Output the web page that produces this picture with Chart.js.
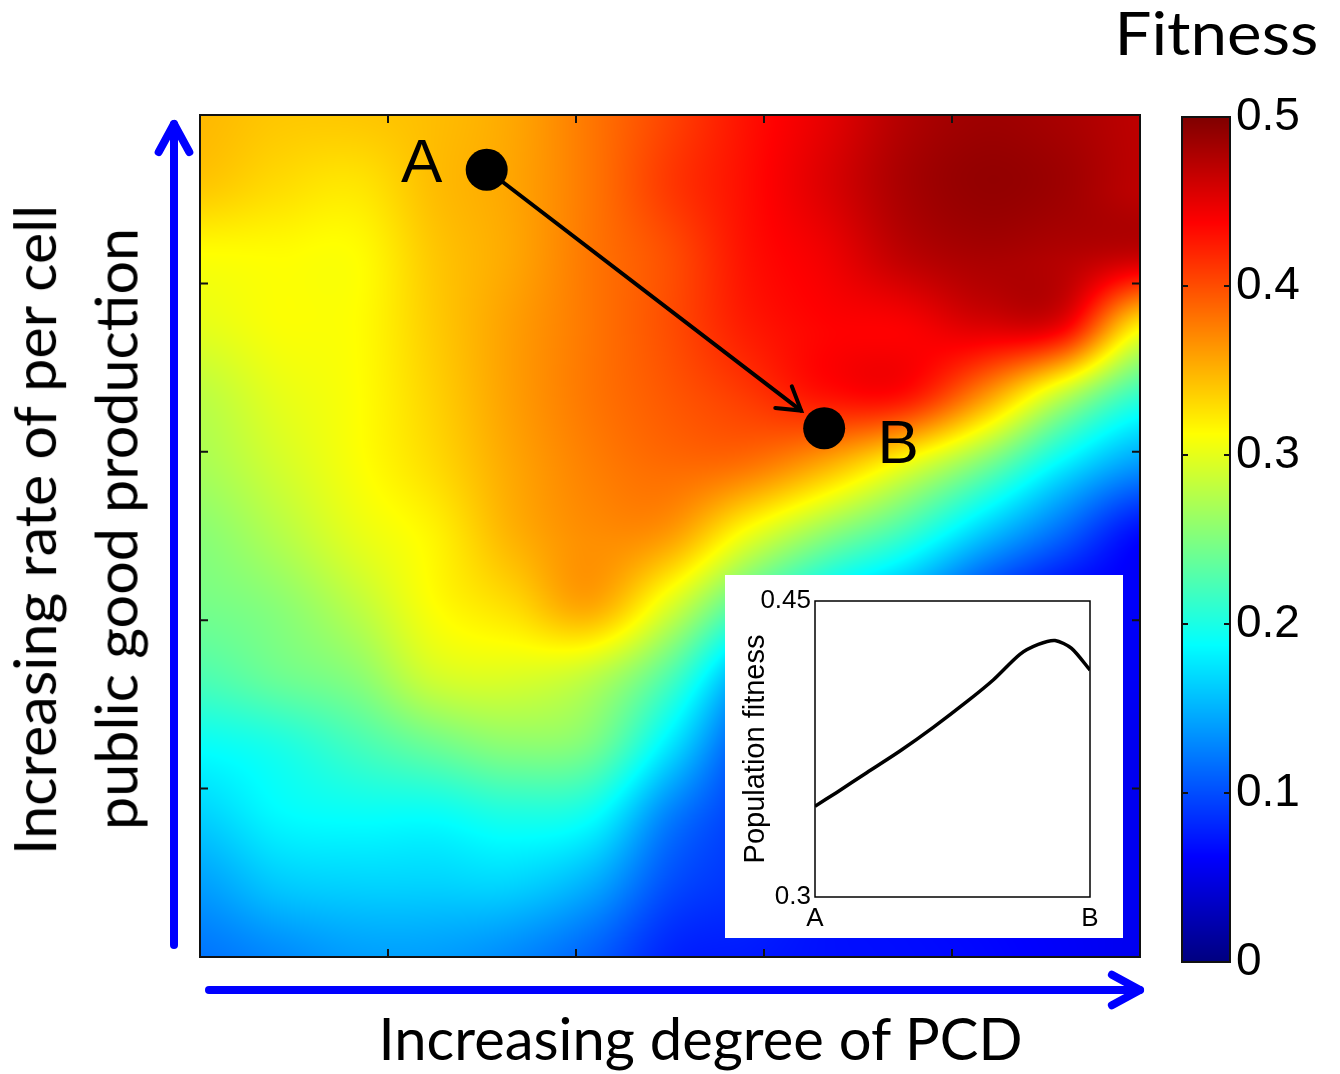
<!DOCTYPE html>
<html>
<head>
<meta charset="utf-8">
<title>Fitness landscape</title>
<script src="https://cdn.jsdelivr.net/npm/chart.js@4.4.1/dist/chart.umd.min.js"></script>
<style>
  html, body { margin: 0; padding: 0; background: #fff; }
  #page { position: relative; width: 1340px; height: 1074px; overflow: hidden; }
  canvas { position: absolute; }
  .label { position: absolute; font-family: 'Lato', 'Open Sans', sans-serif; color: #000; line-height: 1; white-space: nowrap; }
</style>
</head>
<body>
<div id="page">
  <canvas id="landscape" width="1340" height="1074" style="left:0;top:0"></canvas>
  <canvas id="colorbar" width="200" height="1074" style="left:1140px;top:0"></canvas>
  <canvas id="inset" width="398" height="363" style="left:725px;top:575px"></canvas>
  <div class="label" id="fitness-title" style="font-size:60px">Fitness</div>
  <div class="label" id="ylabel-1" style="font-size:58px">Increasing rate of per cell</div>
  <div class="label" id="ylabel-2" style="font-size:58px">public good production</div>
  <div class="label" id="xlabel" style="font-size:58px">Increasing degree of PCD</div>
</div>
<script>
// Data
const pcdLevels = [0, 0.083, 0.167, 0.25, 0.333, 0.417, 0.5, 0.583, 0.667, 0.75, 0.833, 0.917, 1];
const productionLevels = [1, 0.917, 0.833, 0.75, 0.667, 0.583, 0.5, 0.417, 0.333, 0.25, 0.167, 0.083, 0];
// one row per production level (top to bottom), one column per PCD level
const fitnessGrid = [
    [0.347, 0.340, 0.340, 0.345, 0.356, 0.380, 0.405, 0.430, 0.450, 0.475, 0.485, 0.480, 0.470],
    [0.340, 0.330, 0.325, 0.345, 0.357, 0.380, 0.410, 0.432, 0.455, 0.480, 0.490, 0.485, 0.470],
    [0.312, 0.313, 0.313, 0.340, 0.356, 0.380, 0.400, 0.430, 0.445, 0.470, 0.480, 0.475, 0.465],
    [0.300, 0.310, 0.313, 0.338, 0.360, 0.380, 0.400, 0.425, 0.437, 0.440, 0.455, 0.445, 0.321],
    [0.280, 0.300, 0.312, 0.335, 0.360, 0.380, 0.395, 0.410, 0.430, 0.430, 0.367, 0.282, 0.213],
    [0.270, 0.290, 0.310, 0.330, 0.356, 0.375, 0.385, 0.380, 0.350, 0.302, 0.246, 0.180, 0.136],
    [0.255, 0.275, 0.300, 0.318, 0.350, 0.368, 0.360, 0.303, 0.254, 0.213, 0.158, 0.111, 0.066],
    [0.245, 0.255, 0.280, 0.312, 0.330, 0.355, 0.295, 0.219, 0.167, 0.133, 0.087, 0.060, 0.060],
    [0.225, 0.240, 0.255, 0.290, 0.295, 0.280, 0.225, 0.137, 0.090, 0.062, 0.060, 0.058, 0.058],
    [0.190, 0.200, 0.220, 0.240, 0.255, 0.245, 0.175, 0.100, 0.070, 0.062, 0.060, 0.058, 0.055],
    [0.165, 0.185, 0.190, 0.190, 0.200, 0.190, 0.125, 0.090, 0.070, 0.064, 0.060, 0.058, 0.055],
    [0.140, 0.160, 0.165, 0.165, 0.165, 0.145, 0.100, 0.085, 0.070, 0.066, 0.062, 0.058, 0.056],
    [0.120, 0.130, 0.140, 0.140, 0.130, 0.110, 0.080, 0.075, 0.070, 0.068, 0.065, 0.060, 0.055]
];
const fitnessMin = 0;
const fitnessMax = 0.5;
const colorbarTicks = [0, 0.1, 0.2, 0.3, 0.4, 0.5];
const plotTicks = [0, 0.2, 0.4, 0.6, 0.8, 1];

// path from A to B in the landscape
const pathLabels = ['A', 'B'];
const pathPcd = [0.305, 0.664];
const pathProduction = [0.935, 0.628];

// inset: population fitness along the path
const insetPosition = [0, 0.079, 0.188, 0.309, 0.430, 0.552, 0.648, 0.745, 0.812, 0.873, 0.933, 1];
const insetFitness = [0.346, 0.353, 0.363, 0.374, 0.386, 0.399, 0.410, 0.423, 0.428, 0.430, 0.426, 0.415];
const insetYTicks = [0.3, 0.45];
const insetXTicks = [0, 1];

// jet colour map, t in [0, 1]
function jet(t) {
    const c = v => Math.max(0, Math.min(1, v));
    return [
        Math.round(255 * c(1.5 - Math.abs(4 * t - 3))),
        Math.round(255 * c(1.5 - Math.abs(4 * t - 2))),
        Math.round(255 * c(1.5 - Math.abs(4 * t - 1)))
    ];
}

// Catmull-Rom weights for value v on a list of grid levels
function cubicWeights(levels, v) {
    const n = levels.length;
    let i = 0;
    for (; i < n - 2; i++) {
        const lo = Math.min(levels[i], levels[i + 1]);
        const hi = Math.max(levels[i], levels[i + 1]);
        if (v >= lo && v <= hi) break;
    }
    let t = (v - levels[i]) / (levels[i + 1] - levels[i]);
    t = Math.max(0, Math.min(1, t));
    const t2 = t * t, t3 = t2 * t;
    const clampIdx = k => Math.max(0, Math.min(n - 1, k));
    return {
        idx: [clampIdx(i - 1), i, clampIdx(i + 1), clampIdx(i + 2)],
        w: [(-t3 + 2 * t2 - t) / 2, (3 * t3 - 5 * t2 + 2) / 2, (-3 * t3 + 4 * t2 + t) / 2, (t3 - t2) / 2]
    };
}

// Draw the smooth fitness surface under the points
const heatmapPlugin = {
    id: 'heatmap',
    beforeDatasetsDraw(chart) {
        const {ctx, chartArea: a, scales: {x, y}} = chart;
        const w = Math.round(a.right - a.left);
        const h = Math.round(a.bottom - a.top);
        if (!chart.$heat) {
            const off = document.createElement('canvas');
            off.width = w;
            off.height = h;
            const octx = off.getContext('2d');
            const img = octx.createImageData(w, h);
            const colW = [];
            for (let i = 0; i < w; i++) {
                colW.push(cubicWeights(pcdLevels, x.getValueForPixel(a.left + i + 0.5)));
            }
            const rows = fitnessGrid.map(row => colW.map(cw =>
                cw.w[0] * row[cw.idx[0]] + cw.w[1] * row[cw.idx[1]] + cw.w[2] * row[cw.idx[2]] + cw.w[3] * row[cw.idx[3]]));
            for (let j = 0; j < h; j++) {
                const rw = cubicWeights(productionLevels, y.getValueForPixel(a.top + j + 0.5));
                for (let i = 0; i < w; i++) {
                    let v = 0;
                    for (let k = 0; k < 4; k++) v += rw.w[k] * rows[rw.idx[k]][i];
                    v = Math.max(fitnessMin, Math.min(fitnessMax, v));
                    const c = jet((v - fitnessMin) / (fitnessMax - fitnessMin));
                    const p = (j * w + i) * 4;
                    img.data[p] = c[0];
                    img.data[p + 1] = c[1];
                    img.data[p + 2] = c[2];
                    img.data[p + 3] = 255;
                }
            }
            octx.putImageData(img, 0, 0);
            chart.$heat = off;
        }
        ctx.drawImage(chart.$heat, a.left, a.top);
    }
};

function drawArrowHead(ctx, tipX, tipY, dx, dy, len, spread) {
    const ang = Math.atan2(dy, dx);
    ctx.beginPath();
    ctx.moveTo(tipX - len * Math.cos(ang - spread), tipY - len * Math.sin(ang - spread));
    ctx.lineTo(tipX, tipY);
    ctx.lineTo(tipX - len * Math.cos(ang + spread), tipY - len * Math.sin(ang + spread));
    ctx.stroke();
}

// Frame, ticks, path arrow, point letters and the blue axis arrows
const framePlugin = {
    id: 'frame',
    afterDatasetsDraw(chart) {
        const {ctx, chartArea: a, scales: {x, y}} = chart;
        ctx.save();
        ctx.strokeStyle = '#111';
        ctx.lineWidth = 2;
        ctx.strokeRect(a.left, a.top, a.right - a.left, a.bottom - a.top);
        plotTicks.forEach(v => {
            const px = x.getPixelForValue(v);
            const py = y.getPixelForValue(v);
            ctx.beginPath();
            ctx.moveTo(px, a.bottom); ctx.lineTo(px, a.bottom - 8);
            ctx.moveTo(px, a.top); ctx.lineTo(px, a.top + 8);
            ctx.moveTo(a.left, py); ctx.lineTo(a.left + 8, py);
            ctx.moveTo(a.right, py); ctx.lineTo(a.right - 8, py);
            ctx.stroke();
        });

        // path arrow A -> B
        const ax = x.getPixelForValue(pathPcd[0]), ay = y.getPixelForValue(pathProduction[0]);
        const bx = x.getPixelForValue(pathPcd[1]), by = y.getPixelForValue(pathProduction[1]);
        const dx = bx - ax, dy = by - ay, len = Math.hypot(dx, dy);
        const ux = dx / len, uy = dy / len;
        const sx = ax + ux * 21, sy = ay + uy * 21;
        const ex = bx - ux * 29, ey = by - uy * 29;
        ctx.strokeStyle = '#000';
        ctx.lineWidth = 4;
        ctx.lineCap = 'round';
        ctx.beginPath();
        ctx.moveTo(sx, sy);
        ctx.lineTo(ex, ey);
        ctx.stroke();
        drawArrowHead(ctx, ex, ey, dx, dy, 26, 0.55);

        // letters
        ctx.fillStyle = '#000';
        ctx.font = '62px "Liberation Sans", Arial, sans-serif';
        ctx.textAlign = 'center';
        ctx.textBaseline = 'middle';
        ctx.fillText(pathLabels[0], ax - 65, ay - 5);
        ctx.fillText(pathLabels[1], bx + 74, by + 18);

        // blue arrows along the axes
        ctx.strokeStyle = '#0000ff';
        ctx.lineWidth = 8;
        ctx.lineCap = 'round';
        ctx.lineJoin = 'round';
        const vx = a.left - 26;
        ctx.beginPath();
        ctx.moveTo(vx, a.bottom - 12);
        ctx.lineTo(vx, a.top + 9);
        ctx.stroke();
        drawArrowHead(ctx, vx, a.top + 9, 0, -1, 32, 0.5);
        const hy = a.bottom + 33;
        ctx.beginPath();
        ctx.moveTo(a.left + 9, hy);
        ctx.lineTo(a.right, hy);
        ctx.stroke();
        drawArrowHead(ctx, a.right, hy, 1, 0, 32, 0.5);
        ctx.restore();
    }
};

const landscape = new Chart(document.getElementById('landscape'), {
    type: 'scatter',
    data: {
        datasets: [{
            data: pathPcd.map((v, i) => ({x: v, y: pathProduction[i]})),
            backgroundColor: '#000',
            borderWidth: 0,
            pointRadius: 21,
            pointHoverRadius: 21,
            clip: false
        }]
    },
    options: {
        responsive: false,
        animation: false,
        events: [],
        layout: {padding: {left: 200, top: 115, right: 200, bottom: 117}},
        scales: {
            x: {type: 'linear', min: 0, max: 1, display: false},
            y: {type: 'linear', min: 0, max: 1, display: false}
        },
        plugins: {legend: {display: false}, tooltip: {enabled: false}}
    },
    plugins: [heatmapPlugin, framePlugin]
});

// Colour bar
const colorbarPlugin = {
    id: 'colorbarFill',
    beforeDatasetsDraw(chart) {
        const {ctx, chartArea: a, scales: {y}} = chart;
        ctx.save();
        for (let py = Math.floor(a.top); py < a.bottom; py++) {
            const v = Math.max(fitnessMin, Math.min(fitnessMax, y.getValueForPixel(py + 0.5)));
            const c = jet((v - fitnessMin) / (fitnessMax - fitnessMin));
            ctx.fillStyle = `rgb(${c[0]},${c[1]},${c[2]})`;
            ctx.fillRect(a.left, py, a.right - a.left, 1);
        }
        ctx.strokeStyle = '#111';
        ctx.lineWidth = 2;
        ctx.strokeRect(a.left, a.top, a.right - a.left, a.bottom - a.top);
        colorbarTicks.forEach(v => {
            const py = y.getPixelForValue(v);
            ctx.beginPath();
            ctx.moveTo(a.left, py); ctx.lineTo(a.left + 6, py);
            ctx.moveTo(a.right, py); ctx.lineTo(a.right - 6, py);
            ctx.stroke();
        });
        ctx.restore();
    }
};

new Chart(document.getElementById('colorbar'), {
    type: 'scatter',
    data: {datasets: []},
    options: {
        responsive: false,
        animation: false,
        events: [],
        layout: {padding: {left: 42, top: 117, right: 30, bottom: 112}},
        scales: {
            x: {type: 'linear', min: 0, max: 1, display: false},
            y: {
                type: 'linear',
                position: 'right',
                min: fitnessMin,
                max: fitnessMax,
                afterFit: s => { s.width = 80; },
                afterBuildTicks: s => { s.ticks = colorbarTicks.map(v => ({value: v})); },
                ticks: {
                    callback: v => (v === 0 ? '0' : v.toFixed(1)),
                    font: {family: '"Liberation Sans", Arial, sans-serif', size: 46},
                    color: '#000',
                    padding: 6
                },
                grid: {display: false, drawTicks: false},
                border: {display: false}
            }
        },
        plugins: {legend: {display: false}, tooltip: {enabled: false}}
    },
    plugins: [colorbarPlugin]
});

// Inset
const insetFrame = {
    id: 'insetFrame',
    beforeDraw(chart) {
        const ctx = chart.ctx;
        ctx.save();
        ctx.fillStyle = '#fff';
        ctx.fillRect(0, 0, chart.width, chart.height);
        ctx.restore();
    },
    afterDraw(chart) {
        const {ctx, chartArea: a} = chart;
        ctx.save();
        ctx.strokeStyle = '#000';
        ctx.lineWidth = 1.5;
        ctx.strokeRect(a.left, a.top, a.right - a.left, a.bottom - a.top);
        ctx.restore();
    }
};

const insetFont = {family: '"Liberation Sans", Arial, sans-serif', size: 26};

new Chart(document.getElementById('inset'), {
    type: 'line',
    data: {
        datasets: [{
            data: insetPosition.map((v, i) => ({x: v, y: insetFitness[i]})),
            borderColor: '#000',
            borderWidth: 3.5,
            pointRadius: 0,
            tension: 0.25,
            fill: false
        }]
    },
    options: {
        responsive: false,
        animation: false,
        events: [],
        layout: {padding: {left: 0, top: 26, right: 33, bottom: 0}},
        scales: {
            x: {
                type: 'linear',
                min: 0,
                max: 1,
                afterFit: s => { s.height = 41; },
                afterBuildTicks: s => { s.ticks = insetXTicks.map(v => ({value: v})); },
                ticks: {
                    callback: (v, i) => pathLabels[i],
                    font: insetFont,
                    color: '#000',
                    padding: 6,
                    maxRotation: 0,
                    autoSkip: false
                },
                grid: {display: false, drawTicks: false},
                border: {display: false}
            },
            y: {
                type: 'linear',
                min: 0.3,
                max: 0.45,
                afterFit: s => { s.width = 90; },
                afterBuildTicks: s => { s.ticks = insetYTicks.map(v => ({value: v})); },
                ticks: {
                    callback: v => String(v),
                    font: insetFont,
                    color: '#000',
                    padding: 4
                },
                title: {
                    display: true,
                    text: 'Population fitness',
                    font: {family: '"Liberation Sans", Arial, sans-serif', size: 29},
                    color: '#000',
                    padding: {top: 14, bottom: 0}
                },
                grid: {display: false, drawTicks: false},
                border: {display: false}
            }
        },
        plugins: {legend: {display: false}, tooltip: {enabled: false}}
    },
    plugins: [insetFrame]
});

// Titles as html text, squeezed to the widths of the original
function placeLabel(id, cx, cy, width, rotate) {
    const el = document.getElementById(id);
    el.style.transform = 'none';
    const w = el.offsetWidth, h = el.offsetHeight;
    el.style.left = (cx - w / 2) + 'px';
    el.style.top = (cy - h / 2) + 'px';
    el.style.transform = (rotate ? 'rotate(-90deg) ' : '') + 'scaleX(' + (width / w) + ')';
}

function placeAllLabels() {
    placeLabel('fitness-title', 1216, 32, 204, false);
    placeLabel('ylabel-1', 34, 530, 650, true);
    placeLabel('ylabel-2', 115, 529, 602, true);
    placeLabel('xlabel', 700, 1038, 644, false);
}
placeAllLabels();
if (document.fonts && document.fonts.ready) {
    document.fonts.ready.then(placeAllLabels);
}
</script>
</body>
</html>
